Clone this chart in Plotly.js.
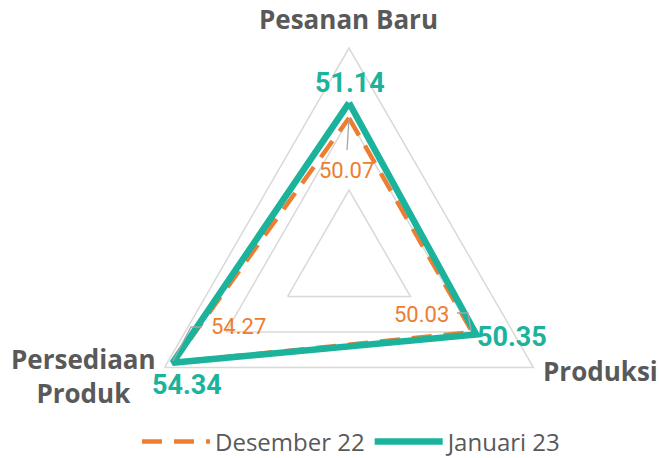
<!DOCTYPE html>
<html><head><meta charset="utf-8">
<script src="https://cdn.plot.ly/plotly-3.0.1.min.js"></script>
<style>html,body{margin:0;padding:0;overflow:hidden;background:#fff}</style>
</head><body><div id="chart" style="width:659px;height:480px"></div>
<script>
const categories = ["Pesanan Baru", "Produksi", "Persediaan Produk"];
const categoryLabels = ["Pesanan Baru", "Produksi", "Persediaan<br>Produk"];
const seriesNames = ["Desember 22", "Januari 23"];
const desember22 = [50.07, 50.03, 54.27];
const januari23 = [51.14, 50.35, 54.34];
const radialGrid = [45, 50, 55];

const closed = a => a.concat([a[0]]);
const numFont = 'Roboto, "Liberation Sans", sans-serif';
const labelFont = '"Open Sans", sans-serif';
const gray = '#595959';
const orange = '#ED7D31';
const teal = '#1BB39B';
const leader = '#A6A6A6';

const W = 659, H = 480;
// helpers converting layout pixel positions to paper fractions
const PX = x => x / W;
const PY = y => 1 - y / H;

const traces = [
  {
    type: 'scatterpolar', name: seriesNames[0],
    r: closed(desember22), theta: closed(categories),
    mode: 'lines', line: {color: orange, width: 4.5, dash: '20px,12px'},
    hoverinfo: 'skip'
  },
  {
    type: 'scatterpolar', name: seriesNames[1],
    r: closed(januari23), theta: closed(categories),
    mode: 'lines', line: {color: teal, width: 6.5},
    hoverinfo: 'skip'
  }
];

// label placements (layout, pixel positions of label centres)
const janLabelPos = [[350, 83], [512, 337], [187, 385]];
const decLabelPos = [[346, 170], [421, 314], [238, 326]];
const catLabelPos = [[348, 19, 'center'], [541, 371, 'left'], [83, 376, 'center']];

const annotations = [];
januari23.forEach((v, i) => annotations.push({
  xref: 'paper', yref: 'paper', x: PX(janLabelPos[i][0]), y: PY(janLabelPos[i][1]),
  text: v.toFixed(2), showarrow: false, xanchor: 'center', yanchor: 'middle',
  font: {family: numFont, size: 27, color: teal, weight: 'bold'}
}));
desember22.forEach((v, i) => annotations.push({
  xref: 'paper', yref: 'paper', x: PX(decLabelPos[i][0]), y: PY(decLabelPos[i][1]),
  text: v.toFixed(2), showarrow: false, xanchor: 'center', yanchor: 'middle',
  font: {family: numFont, size: 22, color: orange}
}));
categoryLabels.forEach((t, i) => annotations.push({
  xref: 'paper', yref: 'paper', x: PX(catLabelPos[i][0]), y: PY(catLabelPos[i][1]),
  text: t, showarrow: false, xanchor: catLabelPos[i][2], yanchor: 'middle', align: 'center',
  font: {family: labelFont, size: 26, color: gray, weight: 'bold'}
}));

// leader lines for the moved orange labels
const leaders = [
  [[349, 119], [347, 150]],
  [[173, 361], [191, 327], [202, 327]],
  [[471, 331], [468, 313], [457, 313]]
];
const shapes = leaders.map(pts => ({
  type: 'path', xref: 'paper', yref: 'paper',
  path: pts.map((p, k) => (k ? 'L' : 'M') + PX(p[0]) + ',' + PY(p[1])).join(' '),
  line: {color: leader, width: 1.3}
}));

const layout = {
  width: W, height: H,
  margin: {l: 0, r: 0, t: 0, b: 0},
  paper_bgcolor: '#fff',
  showlegend: true,
  legend: {
    orientation: 'h', x: PX(352), xanchor: 'center', y: PY(442), yanchor: 'middle',
    font: {family: labelFont, size: 24, color: gray},
    itemwidth: 68
  },
  polar: {
    domain: {x: [PX(136), PX(562)], y: [PY(474), PY(48)]},
    bgcolor: '#fff',
    gridshape: 'linear',
    angularaxis: {
      direction: 'clockwise', rotation: 90,
      showgrid: false, showline: true, linecolor: '#d9d9d9', linewidth: 1.5,
      ticks: '', showticklabels: false
    },
    radialaxis: {
      range: [40, 55], tickvals: radialGrid,
      showticklabels: false, ticks: '', showline: false,
      gridcolor: '#d9d9d9', gridwidth: 1.5
    }
  },
  annotations: annotations,
  shapes: shapes
};

Plotly.newPlot('chart', traces, layout, {displayModeBar: false, staticPlot: true});
</script>
</body></html>
